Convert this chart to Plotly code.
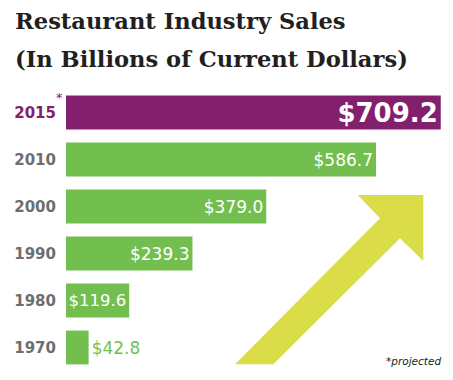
import plotly.graph_objects as go

years = ["1970", "1980", "1990", "2000", "2010", "2015"]
sales = [42.8, 119.6, 239.3, 379.0, 586.7, 709.2]
value_labels = ["$42.8", "$119.6", "$239.3", "$379.0", "$586.7", "<b>$709.2</b>"]
title_line1 = "Restaurant Industry Sales"
title_line2 = "(In Billions of Current Dollars)"
footnote = "*projected"

PURPLE = "rgb(130,32,110)"
GREEN = "rgb(114,191,80)"
ARROW = "rgb(218,221,72)"
GRAY = "rgb(109,110,113)"
DARK = "rgb(35,31,32)"

OFF = 8  # page body margin
W, H = 453 - OFF, 380 - OFF
ML, MR, MT, MB = 66 - OFF, 0, 89 - OFF, 9
PW, PH = W - ML - MR, H - MT - MB


def px(x):
    return (x - OFF - ML) / PW


def py(y):
    return (H + OFF - MB - y) / PH


bar_colors = [GREEN] * 5 + [PURPLE]
text_pos = ["outside"] + ["inside"] * 5
inside_sizes = [17, 16.5, 17, 17, 17, 26]

tick_text = [f"<span style='color:{GRAY}'>{y}</span>" for y in years[:-1]]
tick_text.append(f"<span style='color:{PURPLE}'>{years[-1]}</span>")

fig = go.Figure()
fig.add_trace(go.Bar(
    y=years, x=sales, orientation="h",
    marker=dict(color=bar_colors, line=dict(width=0)),
    text=value_labels, textposition=text_pos,
    insidetextanchor="end", textangle=0, constraintext="none",
    insidetextfont=dict(family="DejaVu Sans", size=inside_sizes, color="white"),
    outsidetextfont=dict(family="DejaVu Sans", size=17, color=GREEN),
    cliponaxis=False, hoverinfo="skip",
))

# arrow (decorative)
pts = [(357.7, 195), (423.3, 195), (423.3, 261), (400, 238.3),
       (273.3, 364.3), (235, 364.3), (380, 218.3)]
path = "M " + " L ".join(f"{px(a):.4f},{py(b):.4f}" for a, b in pts) + " Z"

fig.update_layout(
    width=W, height=H,
    margin=dict(l=ML, r=MR, t=MT, b=MB, autoexpand=False),
    paper_bgcolor="white", plot_bgcolor="white",
    bargap=0.28, showlegend=False,
    xaxis=dict(range=[0, PW / 0.5284], visible=False, fixedrange=True,
               automargin=False),
    yaxis=dict(type="category", categoryorder="array", categoryarray=years,
               tickvals=years, ticktext=tick_text, ticks="",
               showgrid=False, zeroline=False, showline=False,
               ticklabelstandoff=9, automargin=False,
               tickfont=dict(family="DejaVu Sans", size=15, weight="bold")),
    shapes=[dict(type="path", path=path, xref="paper", yref="paper",
                 fillcolor=ARROW, line=dict(width=0), layer="below")],
    annotations=[
        dict(text=title_line1, x=px(13), y=py(21), xref="paper", yref="paper",
             xanchor="left", yanchor="middle", showarrow=False,
             font=dict(family="DejaVu Serif", size=22.6, weight="bold", color=DARK)),
        dict(text=title_line2, x=px(13), y=py(59), xref="paper", yref="paper",
             xanchor="left", yanchor="middle", showarrow=False,
             font=dict(family="DejaVu Serif", size=22.6, weight="bold", color=DARK)),
        dict(text="*", x=px(54), y=py(97), xref="paper", yref="paper",
             xanchor="left", yanchor="middle", showarrow=False,
             font=dict(family="DejaVu Sans", size=13, color=PURPLE)),
        dict(text=footnote, x=px(443), y=py(361), xref="paper", yref="paper",
             xanchor="right", yanchor="middle", showarrow=False,
             font=dict(family="DejaVu Sans", size=10.5, style="italic", color=DARK)),
    ],
)

fig.write_html("out.html")
